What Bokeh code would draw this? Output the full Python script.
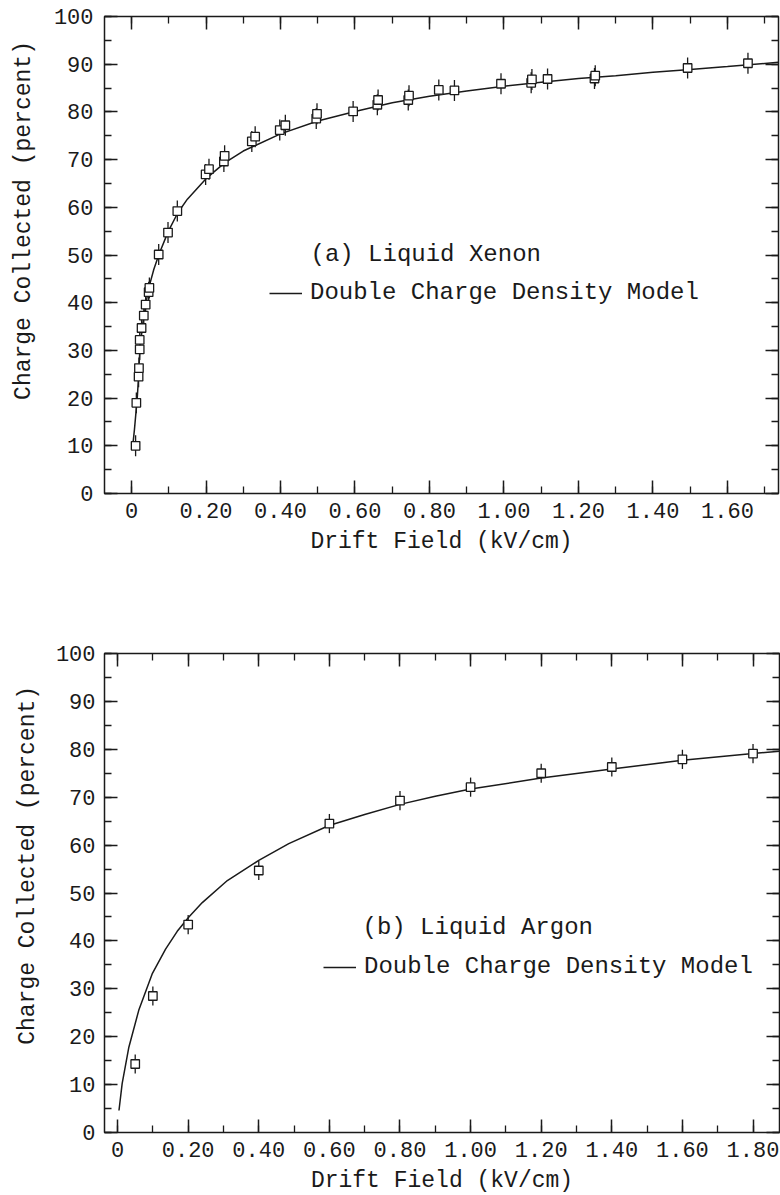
import math
from bokeh.plotting import figure
from bokeh.layouts import column
from bokeh.models import (ColumnDataSource, SingleIntervalTicker, LinearAxis, Range1d,
                          CustomJSTickFormatter, Label, Legend, LegendItem)
from bokeh.embed import file_html
from bokeh.resources import INLINE

# ---------------- data: (a) Liquid Xenon ----------------
xe_field = [0.011, 0.013, 0.019, 0.020, 0.022, 0.022, 0.027, 0.033, 0.038, 0.046, 0.048,
            0.073, 0.098, 0.123, 0.199, 0.208, 0.248, 0.250, 0.323, 0.332, 0.398, 0.413,
            0.496, 0.498, 0.595, 0.660, 0.662, 0.743, 0.745, 0.825, 0.867, 0.992, 1.073,
            1.075, 1.117, 1.243, 1.245, 1.493, 1.655]
xe_charge = [10.0, 19.0, 24.5, 26.3, 30.2, 32.2, 34.7, 37.3, 39.6, 42.2, 43.1,
             50.1, 54.7, 59.2, 66.9, 68.0, 69.6, 70.8, 73.8, 74.8, 76.2, 77.2,
             78.6, 79.6, 80.1, 81.5, 82.5, 82.5, 83.4, 84.6, 84.5, 85.9, 86.1,
             86.8, 86.9, 87.0, 87.6, 89.2, 90.2]
xe_err = [2.2] * len(xe_field)

xe_model_field = [0.004, 0.008, 0.012, 0.015, 0.019, 0.022, 0.026, 0.030, 0.038, 0.046,
                  0.060, 0.074, 0.099, 0.124, 0.150, 0.200, 0.250, 0.300, 0.400, 0.500,
                  0.600, 0.700, 0.800, 0.900, 1.000, 1.100, 1.200, 1.300, 1.400, 1.500,
                  1.600, 1.737]
xe_model_charge = [10.5, 13.5, 17.0, 19.5, 24.5, 29.5, 33.0, 35.5, 39.5, 43.0,
                   47.0, 50.2, 55.0, 58.8, 61.7, 66.0, 69.3, 71.8, 75.4, 78.1,
                   80.1, 81.9, 83.3, 84.4, 85.4, 86.2, 87.0, 87.6, 88.3, 88.9,
                   89.5, 90.4]

# ---------------- data: (b) Liquid Argon ----------------
ar_field = [0.05, 0.10, 0.20, 0.40, 0.60, 0.80, 1.00, 1.20, 1.40, 1.60, 1.80]
ar_charge = [14.3, 28.5, 43.4, 54.7, 64.5, 69.3, 72.1, 75.0, 76.3, 77.9, 79.1]
ar_err = [2.0] * len(ar_field)

ar_model_field = [0.004, 0.013, 0.032, 0.060, 0.098, 0.136, 0.169, 0.202, 0.240, 0.311,
                  0.400, 0.485, 0.599, 0.700, 0.800, 0.900, 1.000, 1.200, 1.400, 1.600,
                  1.800, 1.875]
ar_model_charge = [4.6, 10.2, 17.8, 25.5, 33.1, 38.3, 42.0, 45.0, 48.0, 52.6,
                   56.8, 60.3, 64.1, 66.4, 68.5, 70.2, 71.7, 74.0, 75.9, 77.7,
                   79.1, 79.6]

y_title = "Charge Collected (percent)"
x_title = "Drift Field (kV/cm)"
panel_titles = ["(a) Liquid Xenon", "(b) Liquid Argon"]
model_name = "Double Charge Density Model"

FONT = "Liberation Mono"
INK = "#1a1a1a"
NB = "\u00a0"


def make_panel(field, charge, err, mfield, mcharge, title, xr, frame_w, frame_h,
               borders, ylab_shift, ylab_standoff, ytick_standoff, title_pos, legend_pos):
    left, right, top, bottom = borders
    p = figure(frame_width=frame_w, frame_height=frame_h,
               x_range=Range1d(*xr), y_range=Range1d(0, 100),
               output_backend="svg", toolbar_location=None,
               x_axis_location=None, y_axis_location=None,
               min_border_left=left, min_border_right=right,
               min_border_top=top, min_border_bottom=bottom)
    p.grid.visible = False
    p.background_fill_color = "white"
    p.border_fill_color = "white"
    p.outline_line_color = INK
    p.outline_line_width = 1.5

    fmt_x = CustomJSTickFormatter(code="return tick == 0 ? '0' : tick.toFixed(2);")
    fmt_y = CustomJSTickFormatter(code="return tick.toFixed(0);")
    xt = SingleIntervalTicker(interval=0.2, num_minor_ticks=2)
    yt = SingleIntervalTicker(interval=10, num_minor_ticks=2)
    axes = {
        "below": LinearAxis(ticker=xt, formatter=fmt_x, axis_label=x_title),
        "above": LinearAxis(ticker=xt, formatter=CustomJSTickFormatter(code="return '';")),
        "left": LinearAxis(ticker=yt, formatter=fmt_y,
                           axis_label=NB * ylab_shift + y_title),
        "right": LinearAxis(ticker=yt, formatter=CustomJSTickFormatter(code="return '';")),
    }
    for loc, ax in axes.items():
        ax.axis_line_color = None
        ax.major_tick_in = 13
        ax.major_tick_out = 0
        ax.minor_tick_in = 7
        ax.minor_tick_out = 0
        ax.major_tick_line_color = INK
        ax.minor_tick_line_color = INK
        ax.major_tick_line_width = 1.5
        ax.minor_tick_line_width = 1.3
        ax.major_label_text_font = FONT
        ax.major_label_text_font_size = "22px"
        ax.major_label_text_color = INK
        ax.major_label_standoff = 9
        ax.axis_label_text_font = FONT
        ax.axis_label_text_font_size = "23px"
        ax.axis_label_text_font_style = "normal"
        ax.axis_label_text_color = INK
        if loc == "left":
            ax.major_label_standoff = ytick_standoff
            ax.axis_label_standoff = ylab_standoff
        if loc == "below":
            ax.axis_label_standoff = 8
        if loc in ("above", "right"):
            ax.major_label_text_font_size = "0px"
            ax.major_label_standoff = 0
        p.add_layout(ax, loc)

    src = ColumnDataSource(dict(x=field, y=charge,
                                lo=[c - e for c, e in zip(charge, err)],
                                hi=[c + e for c, e in zip(charge, err)]))
    msrc = ColumnDataSource(dict(x=mfield, y=mcharge))
    curve = p.line("x", "y", source=msrc, line_color=INK, line_width=1.5)
    p.segment(x0="x", y0="lo", x1="x", y1="hi", source=src, line_color=INK, line_width=1.3)
    p.scatter("x", "y", source=src, marker="square", size=8.5, fill_color="white",
              line_color=INK, line_width=1.3)

    p.add_layout(Label(x=title_pos[0], y=title_pos[1], x_units="screen", y_units="screen",
                       text=title, text_align="left", text_baseline="middle",
                       text_font=FONT, text_font_size="24px", text_color=INK))
    leg = Legend(items=[LegendItem(label=model_name, renderers=[curve])],
                 location=legend_pos, glyph_width=33, glyph_height=20,
                 label_standoff=8, padding=0, margin=0, spacing=0,
                 border_line_alpha=0, background_fill_alpha=0,
                 label_text_font=FONT, label_text_font_size="24px",
                 label_text_color=INK, label_height=20)
    p.add_layout(leg)
    return p


p1 = make_panel(xe_field, xe_charge, xe_err, xe_model_field, xe_model_charge,
                panel_titles[0], (-0.0725, 1.737), 674, 477, (99, 7, 16, 107),
                5, 14, 11, (206, 239), (165, 187))
p2 = make_panel(ar_field, ar_charge, ar_err, ar_model_field, ar_model_charge,
                panel_titles[1], (-0.037, 1.875), 675, 479, (104, 1, 53, 63),
                4, 12, 9, (258, 205), (219, 152))

layout = column(p1, p2, spacing=0)
open("out.html", "w").write(file_html(layout, INLINE))
